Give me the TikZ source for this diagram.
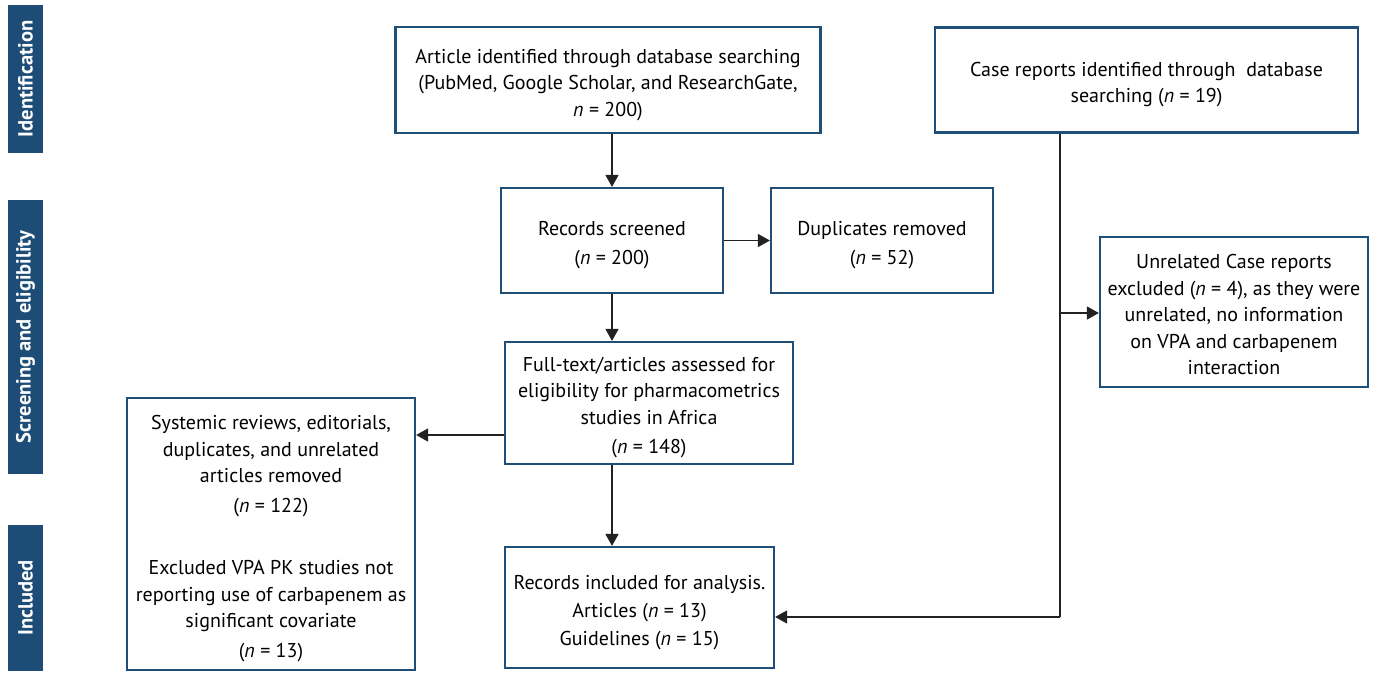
\documentclass[tikz,border=0pt]{standalone}
\usepackage{fontspec}
\setmainfont{PT Sans}
\usetikzlibrary{arrows.meta}
\definecolor{boxblue}{HTML}{1F4E79}
\definecolor{sideblue}{HTML}{1D4D77}
\definecolor{linegray}{HTML}{222222}
\newcommand\fstrut{\rule{0pt}{24pt}}
\newcommand\lstrut{\rule[-5pt]{0pt}{5pt}}
\begin{document}
\begin{tikzpicture}[x=1pt,y=-1pt,
  box/.style={draw=boxblue,line width=2.2pt,fill=white,align=center,inner sep=0pt,
    font=\fontsize{20}{26.5}\selectfont,anchor=center},
  side/.style={fill=sideblue,inner sep=0pt,minimum height=35pt,rotate=90,
    text=white,font=\fontsize{20.5}{24}\selectfont\bfseries,anchor=center},
  conn/.style={draw=linegray,line width=1.4pt},
  arr/.style={conn,-{Triangle[width=13pt,length=12pt]}}]
\useasboundingbox (0,0) rectangle (1381,673);
% side labels
\node[side,minimum width=148pt] (sId) at (25.5,79) {Identification};
\node[side,minimum width=274pt] (sSc) at (25.5,337) {Screening and eligibility};
\node[side,minimum width=146pt] (sIn) at (25.5,598) {Included};
% boxes
\node[box,minimum width=425pt,minimum height=106pt] (art) at (608,80)
  {\fstrut Article identified through database searching\\(PubMed, Google Scholar, and ResearchGate,\\\textit{n} = 200)\lstrut};
\node[box,minimum width=423pt,minimum height=105pt] (case) at (1146.5,80)
  {\fstrut Case reports identified through\ \ database\\searching (\textit{n} = 19)\lstrut};
\node[box,minimum width=222pt,minimum height=105pt] (scr) at (612,240.5)
  {\fstrut Records screened\\[3pt](\textit{n} = 200)\lstrut};
\node[box,minimum width=222pt,minimum height=105pt] (dup) at (882,240.5)
  {\fstrut Duplicates removed\\[3pt](\textit{n} = 52)\lstrut};
\node[box,minimum width=288pt,minimum height=122pt] (full) at (649,403)
  {\fstrut Full-text/articles assessed for\\eligibility for pharmacometrics\\studies in Africa\\[3pt](\textit{n} = 148)\lstrut};
\node[box,minimum width=268pt,minimum height=150pt] (unrel) at (1234,312)
  {\fstrut Unrelated Case reports\\excluded (\textit{n} = 4), as they were\\unrelated, no information\\on VPA and carbapenem\\interaction\lstrut};
\node[box,minimum width=288pt,minimum height=272pt] (sys) at (271,534)
  {\fstrut Systemic reviews, editorials,\\duplicates, and unrelated\\articles removed\\[3pt](\textit{n} = 122)\\[36pt]Excluded VPA PK studies not\\reporting use of carbapenem as\\significant covariate\\[3pt](\textit{n} = 13)\lstrut};
\node[box,minimum width=269pt,minimum height=121pt] (inc) at (639.5,607.5)
  {\fstrut Records included for analysis.\\[1.5pt]Articles (\textit{n} = 13)\\[1.5pt]Guidelines (\textit{n} = 15)\lstrut};
% connectors
\draw[arr] (art.south -| scr.north) -- (scr.north);
\draw[arr] (scr.east) -- (dup.west);
\draw[arr] (scr.south) -- (scr.south |- full.north);
\draw[arr] (full.west |- 0,435) -- (sys.east |- 0,435);
\draw[arr] (scr.south |- full.south) -- (scr.south |- inc.north);
\coordinate (cTop) at (1060,132);
\coordinate (cCorner) at (1060,617);
\coordinate (cBranch) at (1060,313);
\draw[conn] (case.south -| cTop) -- (cCorner);
\draw[arr] (cCorner) -- (inc.east |- cCorner);
\draw[arr] (cBranch) -- (unrel.west |- cBranch);
\end{tikzpicture}
\end{document}
